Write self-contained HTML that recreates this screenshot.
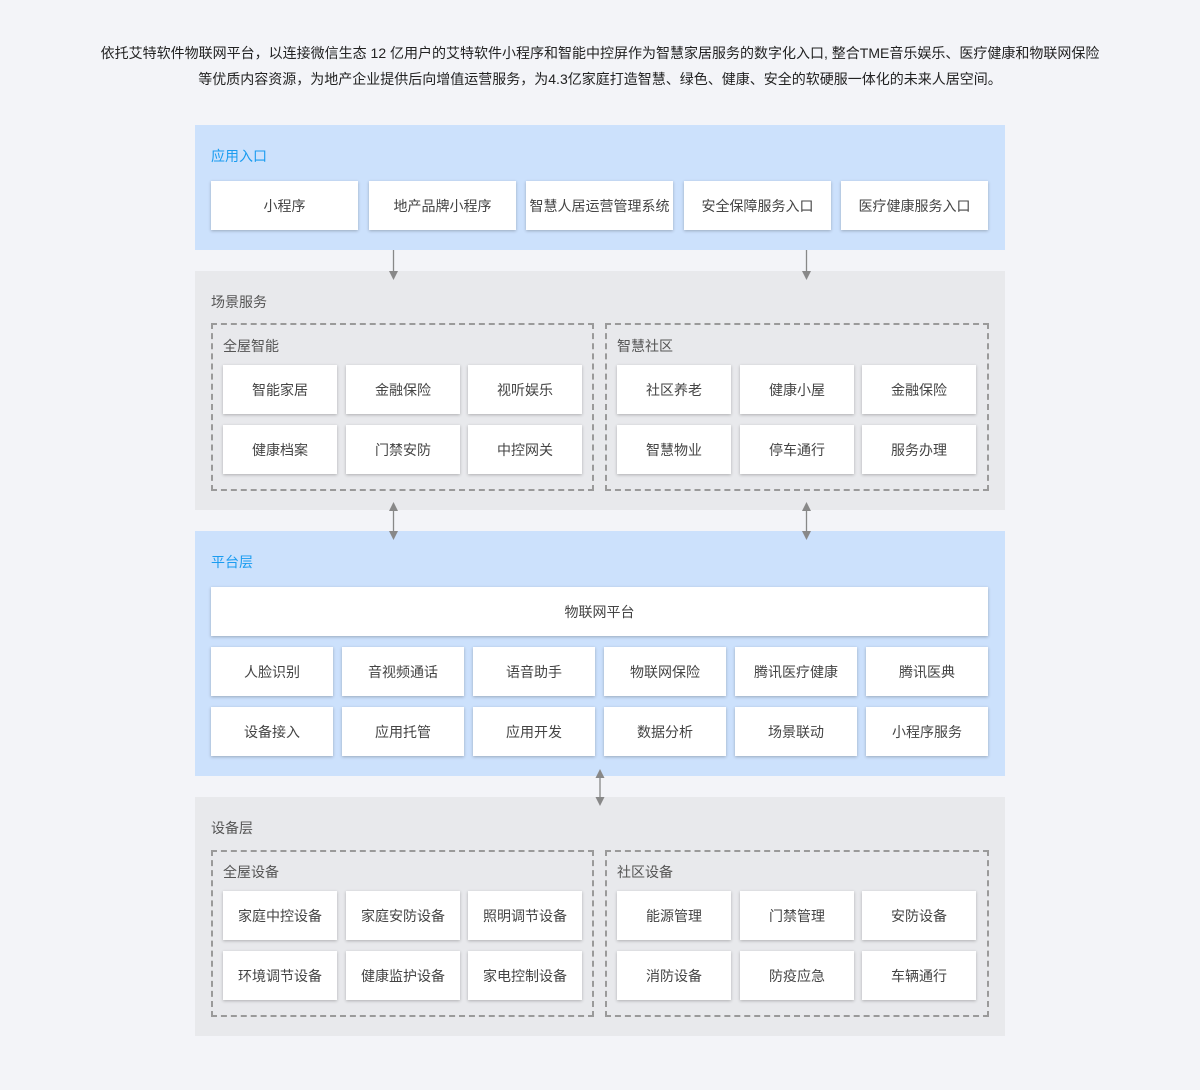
<!DOCTYPE html>
<html><head><meta charset="utf-8"><style>
body{margin:0;width:1200px;height:1090px;background:#f3f4f8;font-family:"Liberation Sans","Noto Sans CJK SC",sans-serif;position:relative;overflow:hidden}
.a{position:absolute}
.intro{left:0;width:1200px;text-align:center;font-size:14px;color:#222;line-height:26px;top:40px}
.sec{position:absolute;left:195px;width:810px}
.blue{background:#cce1fc}.gray{background:#e8e9ec}
.t{position:absolute;font-size:14px;color:#555}
.tb{color:#1a9cf0}
.b{position:absolute;background:#fff;height:49px;line-height:51px;text-align:center;font-size:14px;color:#444;box-shadow:0 1px 3px rgba(0,0,0,.25);white-space:nowrap}
.d{position:absolute;border:2px dashed #9a9a9a;box-sizing:border-box}
</style></head><body>
<div class="a intro">依托艾特软件物联网平台，以连接微信生态 12 亿用户的艾特软件小程序和智能中控屏作为智慧家居服务的数字化入口, 整合TME音乐娱乐、医疗健康和物联网保险<br>等优质内容资源，为地产企业提供后向增值运营服务，为4.3亿家庭打造智慧、绿色、健康、安全的软硬服一体化的未来人居空间。</div>

<div class="sec blue" style="top:125px;height:125px"></div>
<div class="t tb" style="left:211px;top:146px">应用入口</div>
<div class="b" style="left:211px;top:181px;width:147px">小程序</div>
<div class="b" style="left:369px;top:181px;width:147px">地产品牌小程序</div>
<div class="b" style="left:526px;top:181px;width:147px">智慧人居运营管理系统</div>
<div class="b" style="left:684px;top:181px;width:147px">安全保障服务入口</div>
<div class="b" style="left:841px;top:181px;width:147px">医疗健康服务入口</div>

<div class="sec gray" style="top:271px;height:239px"></div>
<div class="t" style="left:211px;top:292px">场景服务</div>
<div class="d" style="left:211px;top:323px;width:383px;height:168px"></div>
<div class="d" style="left:605px;top:323px;width:384px;height:168px"></div>
<div class="t" style="left:223px;top:336px">全屋智能</div>
<div class="t" style="left:617px;top:336px">智慧社区</div>
<div class="b" style="left:223px;top:365px;width:114px">智能家居</div>
<div class="b" style="left:346px;top:365px;width:114px">金融保险</div>
<div class="b" style="left:468px;top:365px;width:114px">视听娱乐</div>
<div class="b" style="left:223px;top:425px;width:114px">健康档案</div>
<div class="b" style="left:346px;top:425px;width:114px">门禁安防</div>
<div class="b" style="left:468px;top:425px;width:114px">中控网关</div>
<div class="b" style="left:617px;top:365px;width:114px">社区养老</div>
<div class="b" style="left:740px;top:365px;width:114px">健康小屋</div>
<div class="b" style="left:862px;top:365px;width:114px">金融保险</div>
<div class="b" style="left:617px;top:425px;width:114px">智慧物业</div>
<div class="b" style="left:740px;top:425px;width:114px">停车通行</div>
<div class="b" style="left:862px;top:425px;width:114px">服务办理</div>

<div class="sec blue" style="top:531px;height:245px"></div>
<div class="t tb" style="left:211px;top:552px">平台层</div>
<div class="b" style="left:211px;top:587px;width:777px">物联网平台</div>
<div class="b" style="left:211px;top:647px;width:122px">人脸识别</div>
<div class="b" style="left:342px;top:647px;width:122px">音视频通话</div>
<div class="b" style="left:473px;top:647px;width:122px">语音助手</div>
<div class="b" style="left:604px;top:647px;width:122px">物联网保险</div>
<div class="b" style="left:735px;top:647px;width:122px">腾讯医疗健康</div>
<div class="b" style="left:866px;top:647px;width:122px">腾讯医典</div>
<div class="b" style="left:211px;top:707px;width:122px">设备接入</div>
<div class="b" style="left:342px;top:707px;width:122px">应用托管</div>
<div class="b" style="left:473px;top:707px;width:122px">应用开发</div>
<div class="b" style="left:604px;top:707px;width:122px">数据分析</div>
<div class="b" style="left:735px;top:707px;width:122px">场景联动</div>
<div class="b" style="left:866px;top:707px;width:122px">小程序服务</div>

<div class="sec gray" style="top:797px;height:239px"></div>
<div class="t" style="left:211px;top:818px">设备层</div>
<div class="d" style="left:211px;top:850px;width:383px;height:167px"></div>
<div class="d" style="left:605px;top:850px;width:384px;height:167px"></div>
<div class="t" style="left:223px;top:862px">全屋设备</div>
<div class="t" style="left:617px;top:862px">社区设备</div>
<div class="b" style="left:223px;top:891px;width:114px">家庭中控设备</div>
<div class="b" style="left:346px;top:891px;width:114px">家庭安防设备</div>
<div class="b" style="left:468px;top:891px;width:114px">照明调节设备</div>
<div class="b" style="left:223px;top:951px;width:114px">环境调节设备</div>
<div class="b" style="left:346px;top:951px;width:114px">健康监护设备</div>
<div class="b" style="left:468px;top:951px;width:114px">家电控制设备</div>
<div class="b" style="left:617px;top:891px;width:114px">能源管理</div>
<div class="b" style="left:740px;top:891px;width:114px">门禁管理</div>
<div class="b" style="left:862px;top:891px;width:114px">安防设备</div>
<div class="b" style="left:617px;top:951px;width:114px">消防设备</div>
<div class="b" style="left:740px;top:951px;width:114px">防疫应急</div>
<div class="b" style="left:862px;top:951px;width:114px">车辆通行</div>

<svg class="a" style="left:0;top:0" width="1200" height="1090">
<g stroke="#888" stroke-width="1.3" fill="#888">
<line x1="393.5" y1="250" x2="393.5" y2="272"/><polygon points="389,271 398,271 393.5,280" stroke="none"/>
<line x1="806.5" y1="250" x2="806.5" y2="272"/><polygon points="802,271 811,271 806.5,280" stroke="none"/>
<line x1="393.5" y1="508" x2="393.5" y2="534"/><polygon points="389,511 398,511 393.5,502" stroke="none"/><polygon points="389,531 398,531 393.5,540" stroke="none"/>
<line x1="806.5" y1="508" x2="806.5" y2="534"/><polygon points="802,511 811,511 806.5,502" stroke="none"/><polygon points="802,531 811,531 806.5,540" stroke="none"/>
<line x1="600" y1="775" x2="600" y2="800"/><polygon points="595.5,778 604.5,778 600,769" stroke="none"/><polygon points="595.5,797 604.5,797 600,806" stroke="none"/>
</g></svg>
</body></html>
